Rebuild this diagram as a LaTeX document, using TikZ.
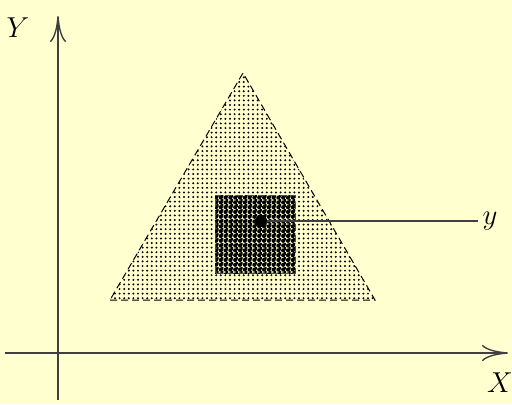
\documentclass[tikz,border=0pt]{standalone}
\usetikzlibrary{patterns, arrows.meta, positioning}
\definecolor{paper}{RGB}{255,255,208}
\pgfdeclarepatternformonly{finedots}{\pgfqpoint{-1pt}{-1pt}}{\pgfqpoint{1pt}{1pt}}{\pgfqpoint{2.3pt}{2.3pt}}{%
  \pgfpathcircle{\pgfqpoint{0pt}{0pt}}{.55pt}\pgfusepath{fill}}
\pgfdeclarepatternformonly{densedots}{\pgfqpoint{-1.3pt}{-1.3pt}}{\pgfqpoint{1.3pt}{1.3pt}}{\pgfqpoint{2.4pt}{2.4pt}}{%
  \pgfpathcircle{\pgfqpoint{0pt}{0pt}}{1.05pt}\pgfusepath{fill}
  \pgfpathcircle{\pgfqpoint{1.2pt}{1.2pt}}{1.05pt}\pgfusepath{fill}}
\begin{document}
\begin{tikzpicture}[
    x=0.5pt, y=0.5pt,
    axis/.style={line width=0.6pt, black!75, -{To[length=13pt, width=8pt, line width=0.7pt]}},
    region/.style={line width=0.5pt, dash pattern=on 3.5pt off 2pt},
    lbl/.style={font=\Large}
]
\fill[paper] (0,0) rectangle (512,404);
\useasboundingbox (0,0) rectangle (512,404);

% axes
\coordinate (xs) at (5,51);
\coordinate (xe) at (508,51);
\coordinate (ys) at (58,4);
\coordinate (ye) at (58,388);
\draw[axis] (xs) -- (xe);
\draw[axis] (ys) -- (ye);
\node[lbl] (xl) at (500,21) {$X$};
\node[lbl] (yl) at (18,376) {$Y$};

% triangle
\coordinate (ta) at (110,104);
\coordinate (tb) at (375,104);
\coordinate (tc) at (243,331);
\draw[region, pattern=finedots] (ta) -- (tb) -- (tc) -- cycle;

% square
\coordinate (sa) at (215,131);
\coordinate (sb) at (295,209);
\fill[paper] (sa) rectangle (sb);
\draw[region, pattern=densedots, draw=black!70] (sa) rectangle (sb);

% point y
\coordinate (pt) at (261,183);
\coordinate (pe) at (478,183);
\node[lbl] (py) at (490,183) {$y$};
\draw[line width=0.6pt, black!75] (pt) -- (pe);
\fill (pt) circle (6);
\end{tikzpicture}
\end{document}
